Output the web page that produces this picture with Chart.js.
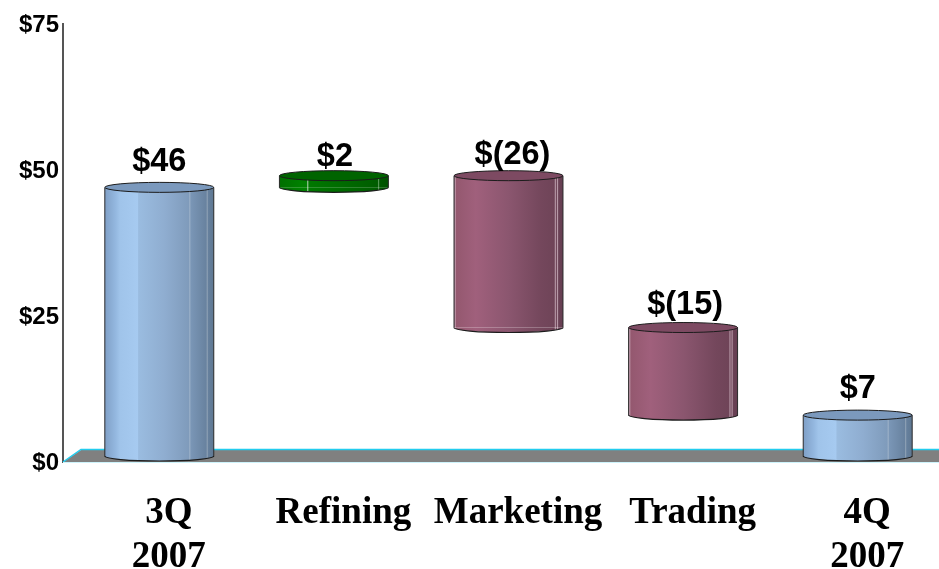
<!DOCTYPE html>
<html>
<head>
<meta charset="utf-8">
<style>
    html, body { margin: 0; padding: 0; background: #fff; }
    #wrap { width: 939px; height: 569px; }
</style>
<script src="https://cdn.jsdelivr.net/npm/chart.js@4"></script>
</head>
<body>
<div id="wrap"><canvas id="myChart"></canvas></div>
<script>
var categories = [["3Q", "2007"], "Refining", "Marketing", "Trading", ["4Q", "2007"]];
var rangeLow = [0, 46, 22, 7, 0];
var rangeHigh = [46, 48, 48, 22, 7];
var valueLabels = ["$46", "$2", "$(26)", "$(15)", "$7"];
var axisTicks = [0, 25, 50, 75];

// look of the fake 3d cylinders
var blue = {
    top: "#7b99bd",
    stops: [[0, "#7f9fc6"], [0.1, "#94b8e0"], [0.14, "#a0c4ea"], [0.3, "#a6caf0"], [0.31, "#9abce0"], [0.55, "#8fadd0"],
        [0.77, "#7f9bbb"], [0.78, "#9db2c9"], [0.79, "#7a96b6"], [0.93, "#68829f"], [0.94, "#8fa2b6"], [0.95, "#66809d"], [1, "#5f7892"]],
};
var pink = {
    top: "#7d4a62",
    stops: [[0, "#8a5570"], [0.01, "#c9a6b6"], [0.02, "#94586f"], [0.2, "#a0607c"], [0.5, "#8b566f"], [0.8, "#74475c"],
        [0.92, "#6f4458"], [0.93, "#b89aa8"], [0.94, "#6d4357"], [0.95, "#b89aa8"], [0.96, "#6a4155"], [1, "#653e51"]],
};
var green = {
    top: "#006400",
    stops: [[0, "#006f00"], [0.2, "#008000"], [0.25, "#008000"], [0.26, "#a8cfa8"], [0.27, "#007800"], [0.6, "#006a00"],
        [0.9, "#005c00"], [0.91, "#5a9a5a"], [0.92, "#005800"], [1, "#005000"]],
};
var barStyles = [blue, green, pink, pink, blue];

var depth = { x: 18, y: 12 };   // floor depth in px, bars stand in the middle of it
var capRadius = 5;
var barShare = 0.624;
var labelNudge = [[0, 11], [1, 5], [4, 7], [2, 9], [0, 12]];

var ctx = document.getElementById("myChart").getContext("2d");

function bar_gradient(chart, i, left, width) {
    var g = chart.ctx.createLinearGradient(left, 0, left + width, 0);
    barStyles[i].stops.forEach(function (s) { g.addColorStop(s[0], s[1]); });
    return g;
}

var cylinders = {
    id: "cylinders",
    beforeDatasetsDraw: function (chart) {
        var a = chart.chartArea, c = chart.ctx;
        c.save();
        c.fillStyle = "#808080";
        c.beginPath();
        c.moveTo(a.left, a.bottom);
        c.lineTo(a.left + depth.x, a.bottom - depth.y);
        c.lineTo(chart.width, a.bottom - depth.y);
        c.lineTo(chart.width, a.bottom);
        c.closePath();
        c.fill();
        c.lineWidth = 1.5;
        c.strokeStyle = "#22ccee";
        c.beginPath();
        c.moveTo(a.left, a.bottom);
        c.lineTo(a.left + depth.x, a.bottom - depth.y - 0.5);
        c.lineTo(chart.width, a.bottom - depth.y - 0.5);
        c.stroke();
        c.lineWidth = 1;
        c.strokeStyle = "#cdf3fb";
        c.beginPath();
        c.moveTo(a.left, a.bottom + 0.5);
        c.lineTo(chart.width, a.bottom + 0.5);
        c.stroke();
        c.restore();
    },
    beforeDatasetDraw: function (chart, args) {
        var c = chart.ctx;
        c.save();
        c.translate(depth.x / 2, -depth.y / 2);
        args.meta.data.forEach(function (bar, i) {
            var left = bar.x - bar.width / 2;
            c.beginPath();
            c.ellipse(bar.x, bar.base, bar.width / 2, capRadius, 0, 0, Math.PI);
            c.fillStyle = bar_gradient(chart, i, left, bar.width);
            c.fill();
            c.lineWidth = 1.2;
            c.strokeStyle = "#1c1c1c";
            c.stroke();
        });
    },
    afterDatasetDraw: function (chart, args) {
        var c = chart.ctx;
        args.meta.data.forEach(function (bar, i) {
            var left = bar.x - bar.width / 2;
            c.lineWidth = 1;
            c.strokeStyle = "#2a2a2a";
            c.beginPath();
            c.moveTo(left, bar.y);
            c.lineTo(left, bar.base);
            c.moveTo(left + bar.width, bar.y);
            c.lineTo(left + bar.width, bar.base);
            c.stroke();
            c.beginPath();
            c.ellipse(bar.x, bar.y, bar.width / 2, capRadius, 0, 0, Math.PI * 2);
            c.fillStyle = barStyles[i].top;
            c.fill();
            c.strokeStyle = "#1c1c1c";
            c.stroke();
        });
        c.restore();

        c.save();
        c.fillStyle = "#000";
        c.font = "bold 32.5px 'Liberation Sans'";
        c.textAlign = "center";
        c.textBaseline = "alphabetic";
        args.meta.data.forEach(function (bar, i) {
            var px = bar.x + depth.x / 2 + labelNudge[i][0];
            var py = bar.y - depth.y / 2 - capRadius - labelNudge[i][1];
            c.fillText(valueLabels[i], px, py);
        });
        c.restore();
    },
};

function init_chart() {
    window.myChart = new Chart(ctx, {
        type: "bar",
        data: {
            labels: categories,
            datasets: [
                {
                    data: rangeLow.map(function (low, i) { return [low, rangeHigh[i]]; }),
                    backgroundColor: function (context) {
                        var chart = context.chart;
                        if (!chart.chartArea || context.dataIndex === undefined) return "#888";
                        var w = chart.chartArea.width / categories.length * barShare;
                        var cx = chart.scales.x.getPixelForValue(context.dataIndex);
                        return bar_gradient(chart, context.dataIndex, cx - w / 2, w);
                    },
                    borderWidth: 0,
                    categoryPercentage: 1,
                    barPercentage: barShare,
                    clip: false,
                },
            ],
        },
        options: {
            responsive: true,
            maintainAspectRatio: false,
            animation: false,
            layout: { padding: { top: 24, left: 0, right: 3, bottom: 0 } },
            plugins: {
                legend: { display: false },
                title: { display: false },
                tooltip: { enabled: false },
            },
            scales: {
                x: {
                    grid: { display: false, drawTicks: false },
                    border: { display: false },
                    afterFit: function (scale) { scale.height = 107; },
                    ticks: {
                        color: "#000",
                        padding: 29,
                        labelOffset: 18.5,
                        maxRotation: 0,
                        autoSkip: false,
                        font: { family: "'Liberation Serif'", size: 37, weight: "bold", lineHeight: 1.2 },
                    },
                },
                y: {
                    min: 0,
                    max: 75,
                    afterFit: function (scale) { scale.width = 63; },
                    afterBuildTicks: function (scale) {
                        scale.ticks = axisTicks.map(function (v) { return { value: v }; });
                    },
                    grid: { display: false, drawTicks: false },
                    border: { display: true, color: "#555", width: 2 },
                    ticks: {
                        color: "#000",
                        padding: 4,
                        labelOffset: 1.5,
                        font: { family: "'Liberation Sans'", size: 24, weight: "bold" },
                        callback: function (v) { return "$" + v; },
                    },
                },
            },
        },
        plugins: [cylinders],
    });
}

init_chart();
</script>
</body>
</html>
